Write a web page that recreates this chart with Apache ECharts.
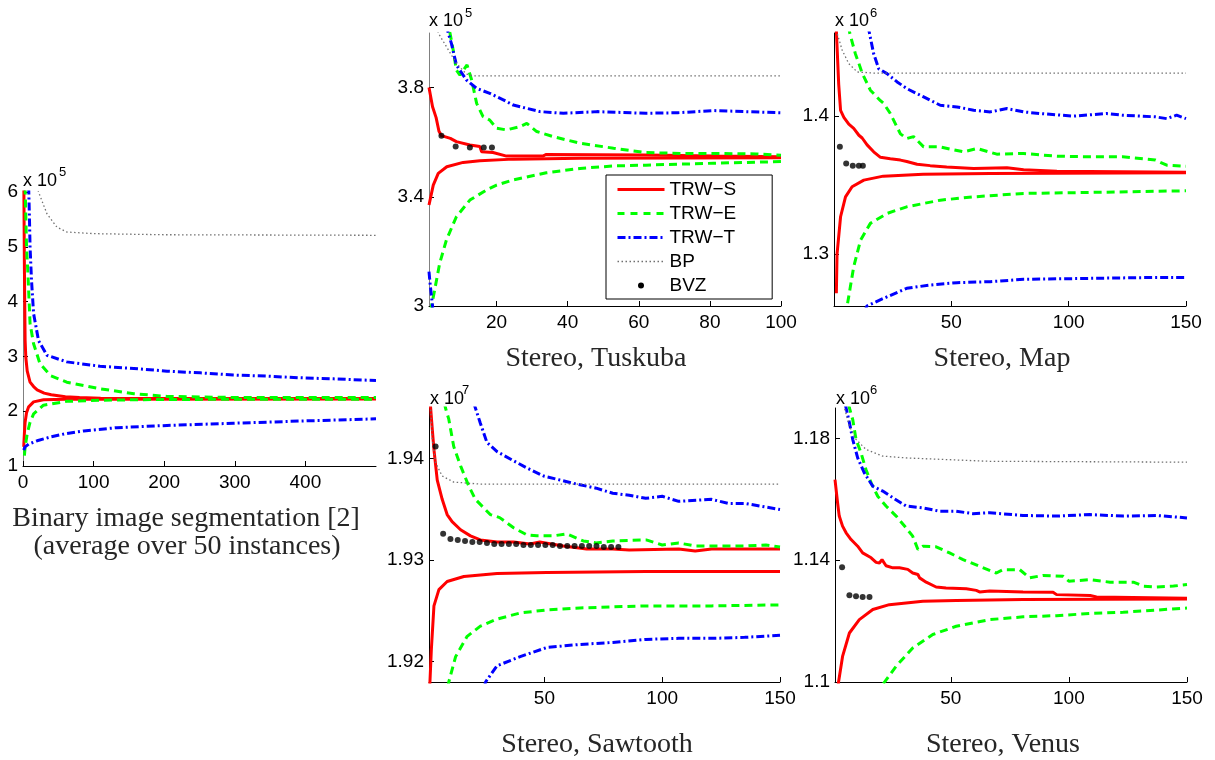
<!DOCTYPE html>
<html><head><meta charset="utf-8">
<script src="https://cdn.jsdelivr.net/npm/echarts@6/dist/echarts.min.js"></script>
<style>html,body{margin:0;padding:0;background:#fff}#c{width:1215px;height:760px}</style>
</head><body><div id="c"></div>
<script>
// ---------- DATA (values in axis units, e.g. 3.8 means 3.8 x 10^5) ----------
// Binary image segmentation (x 10^5)
const BIN_S_UP = [[1,6.5],[2,4.6],[3,3.3],[4,2.98],[6,2.73],[10,2.53],[15,2.45],[20,2.39],[30,2.33],[40,2.30],[60,2.265],[80,2.25],[110,2.237],[150,2.233],[250,2.232],[500,2.232]];
const BIN_S_LO = [[1,1.35],[2,1.6],[3,1.8],[5,1.97],[8,2.08],[15,2.17],[29,2.21],[60,2.218],[100,2.22],[500,2.222]];
const BIN_E_UP = [[3,6.1],[5,5.0],[7,4.5],[8,4.2],[10,3.6],[15,3.23],[24,2.87],[39,2.65],[62,2.53],[109,2.41],[157,2.32],[204,2.27],[298,2.25],[500,2.25]];
const BIN_E_LO = [[2,1.19],[3,1.35],[6,1.59],[10,1.8],[15,1.95],[29,2.11],[62,2.18],[109,2.2],[204,2.215],[500,2.22]];
const BIN_T_UP = [[8,6.1],[9,5.6],[10,5.0],[12,4.4],[15,3.78],[22,3.29],[34,3.02],[62,2.90],[109,2.82],[157,2.78],[204,2.73],[251,2.70],[298,2.66],[345,2.64],[392,2.61],[440,2.59],[500,2.56]];
const BIN_T_LO = [[1,1.29],[3,1.35],[8,1.40],[20,1.46],[39,1.53],[60,1.59],[86,1.64],[133,1.70],[204,1.74],[298,1.78],[392,1.82],[500,1.86]];
const BIN_BP   = [[20,6.1],[22,6.0],[34,5.6],[48,5.36],[62,5.27],[100,5.24],[200,5.22],[500,5.21]];
const BIN_BVZ  = [];

// Stereo, Tsukuba (x 10^5)
const TSU_S_UP = [[1,3.80],[2,3.73],[3,3.69],[3.8,3.64],[4.5,3.624],[7,3.614],[8.7,3.602],[12.5,3.59],[15.3,3.584],[15.8,3.565],[19,3.562],[22.8,3.549],[33,3.549],[34,3.555],[62,3.553],[81,3.549],[100,3.547]];
const TSU_S_LO = [[1,3.37],[2.2,3.443],[3.6,3.486],[6,3.51],[10.6,3.526],[15.3,3.532],[24.7,3.538],[43.5,3.541],[100,3.543]];
const TSU_E_UP = [[6,4.05],[6.9,4.0],[7.8,3.938],[8.7,3.864],[9.7,3.846],[11.7,3.883],[13,3.828],[14.4,3.742],[16.2,3.694],[18.1,3.681],[20,3.651],[22.8,3.645],[26.6,3.657],[28.5,3.669],[31.3,3.639],[36,3.62],[43.5,3.596],[52.9,3.578],[62,3.562],[71.6,3.559],[81,3.559],[93,3.557],[100,3.552]];
const TSU_E_LO = [[1.5,2.98],[1.7,3.0],[2.6,3.059],[4,3.156],[5.9,3.242],[8.7,3.327],[12.5,3.388],[17.2,3.425],[20,3.443],[24.7,3.462],[34,3.488],[43.5,3.504],[52.9,3.513],[62,3.516],[81,3.523],[100,3.529]];
const TSU_T_UP = [[6,4.03],[6.4,4.0],[7.3,3.962],[8.7,3.883],[11.5,3.828],[14.4,3.797],[18.1,3.779],[21.9,3.755],[24.7,3.736],[28.5,3.724],[32.2,3.712],[38.8,3.706],[48.2,3.712],[62,3.706],[71,3.708],[81,3.716],[90,3.712],[100,3.708]];
const TSU_T_LO = [[1,3.126],[1.4,3.07],[2,3.0],[2.3,2.95]];
const TSU_BP   = [[3,4.05],[3.6,4.0],[5.9,3.95],[8.7,3.889],[11.5,3.85],[13.4,3.843],[100,3.843]];
const TSU_BVZ  = [[4.5,3.624],[8.5,3.584],[12.5,3.581],[16.4,3.581],[18.7,3.581]];

// Stereo, Map (x 10^6)
const MAP_S_UP = [[1,1.462],[2,1.423],[2.8,1.404],[4.2,1.399],[6.3,1.394],[8.4,1.391],[10.6,1.386],[12,1.384],[14.1,1.379],[16.9,1.374],[19.8,1.370],[24,1.369],[28.3,1.368],[31,1.367],[35.4,1.365],[41,1.364],[48,1.363],[59.5,1.362],[73.7,1.3624],[80.8,1.361],[95,1.360],[150,1.3593]];
const MAP_S_LO = [[1,1.2716],[1.3,1.30],[2.8,1.327],[4.9,1.3414],[7.7,1.3487],[12.7,1.3535],[21,1.3564],[38,1.3578],[66.6,1.3583],[150,1.3588]];
const MAP_E_UP = [[6.2,1.465],[6.7,1.46],[9.1,1.445],[10.6,1.438],[12,1.431],[15.5,1.4186],[19.8,1.411],[21.2,1.409],[24,1.4017],[28.3,1.387],[31,1.3836],[33.9,1.385],[35.4,1.3824],[38.2,1.3776],[45,1.3776],[55.2,1.374],[60.9,1.3764],[69.4,1.3723],[80.8,1.3728],[95,1.3708],[109,1.3704],[123,1.3704],[137,1.368],[141.8,1.3643],[150,1.3636]];
const MAP_E_LO = [[5.2,1.255],[5.6,1.2624],[8.4,1.2908],[11.3,1.31],[15.5,1.3222],[22.6,1.3294],[31,1.3342],[45.3,1.339],[59.5,1.3414],[80.8,1.3439],[109,1.3446],[150,1.3458]];
const MAP_T_UP = [[14.5,1.465],[15.1,1.46],[16.9,1.445],[19.1,1.434],[22.6,1.4306],[26.9,1.4246],[31,1.4198],[38.2,1.4137],[45.3,1.4077],[52.4,1.4065],[59.5,1.4041],[66.6,1.4029],[73.7,1.4053],[80.8,1.4029],[87.9,1.4017],[102,1.3998],[116,1.4017],[123,1.4005],[137,1.3993],[141.8,1.398],[146,1.4005],[150,1.398]];
const MAP_T_LO = [[13,1.258],[14,1.2624],[21.2,1.268],[31,1.2752],[41,1.2776],[52.4,1.2793],[66.6,1.28],[80.8,1.2817],[109,1.2824],[137.6,1.2831],[150,1.2831]];
const MAP_BP   = [[1,1.465],[1.3,1.46],[3.5,1.4475],[6.3,1.4378],[9.9,1.4318],[16.9,1.431],[150,1.431]];
const MAP_BVZ  = [[2.5,1.3776],[5.2,1.3655],[8,1.3639],[10.6,1.3639],[12.3,1.3639]];

// Stereo, Sawtooth (x 10^7)
const SAW_S_UP = [[1.4,1.946],[1.7,1.945],[2.4,1.9429],[3.1,1.9409],[4.5,1.9379],[6.6,1.936],[8.7,1.9345],[10.8,1.9338],[14.4,1.933],[18.6,1.9324],[22.8,1.932],[29.9,1.9318],[36.9,1.9318],[43.9,1.9316],[48,1.9318],[58,1.9314],[67.9,1.9311],[79,1.9311],[86,1.931],[107,1.9311],[114,1.9309],[121,1.9311],[150,1.9311]];
const SAW_S_LO = [[1,1.915],[1.4,1.918],[2,1.9212],[3.1,1.9255],[5.2,1.9271],[8.7,1.9279],[15.8,1.9284],[29.9,1.9287],[51,1.9288],[93,1.9289],[150,1.9289]];
const SAW_E_UP = [[7.5,1.9455],[8,1.945],[9.4,1.9439],[11.5,1.9412],[14.4,1.9393],[17.9,1.9373],[20.7,1.936],[22.8,1.9355],[27,1.9345],[31,1.9342],[36.9,1.9332],[42.5,1.9325],[46.8,1.9324],[53.8,1.9324],[59.4,1.9326],[66.5,1.9319],[72,1.9317],[79,1.9319],[93.2,1.932],[100,1.9315],[107,1.9317],[114,1.9314],[128,1.9314],[135,1.9314],[144,1.9315],[150,1.9313]];
const SAW_E_LO = [[9,1.9175],[9.4,1.918],[12.3,1.9205],[17.2,1.9225],[22.8,1.9235],[29.9,1.9242],[39.7,1.9248],[51,1.9251],[65,1.9253],[93,1.9255],[121,1.9255],[150,1.9256]];
const SAW_T_UP = [[20,1.9455],[20.7,1.945],[22.8,1.9435],[25.6,1.9416],[29.9,1.9407],[36.9,1.9398],[42.5,1.9391],[49.6,1.9383],[56.6,1.9379],[63.7,1.9375],[72,1.9371],[79,1.9366],[86,1.9364],[93,1.9361],[100,1.9363],[107,1.9358],[121,1.936],[128,1.9356],[135,1.9356],[142.5,1.9353],[150,1.935]];
const SAW_T_LO = [[24.5,1.9175],[25,1.918],[29.9,1.9196],[39.7,1.9205],[51,1.9214],[65,1.9217],[79,1.9219],[93,1.9222],[107,1.9223],[121,1.9223],[135,1.9224],[150,1.9226]];
const SAW_BP   = [[1.4,1.946],[1.7,1.945],[2.4,1.9419],[3.8,1.9396],[6.6,1.9383],[11.5,1.9377],[22.8,1.9375],[150,1.9375]];
const SAW_BVZ  = [[3.8,1.9412],[7,1.9326],[10.1,1.9321],[13.2,1.932],[16.3,1.9319],[19.4,1.9318],[22.5,1.9318],[25.6,1.9317],[28.7,1.9316],[31.8,1.9316],[34.9,1.9316],[38,1.9316],[41.1,1.9315],[44.2,1.9315],[47.3,1.9315],[50.4,1.9315],[53.5,1.9315],[56.6,1.9314],[59.7,1.9314],[62.8,1.9314],[65.9,1.9314],[69,1.9314],[72.1,1.9314],[75.2,1.9313],[78.3,1.9313],[81.4,1.9313]];

// Stereo, Venus (x 10^6)
const VEN_S_UP = [[1,1.1665],[2.1,1.1588],[2.8,1.1545],[4.2,1.1512],[5.7,1.149],[7.8,1.1468],[10.6,1.1446],[12.7,1.1424],[16.3,1.1408],[18.4,1.1393],[19.8,1.1391],[20.9,1.1402],[22.6,1.1382],[25.5,1.1375],[28.3,1.1375],[31.8,1.137],[33.9,1.1358],[36.1,1.1353],[36.8,1.1342],[39.6,1.1328],[43.8,1.1312],[48,1.1309],[56.6,1.1306],[60.8,1.1301],[62.2,1.1296],[66.5,1.1299],[80.6,1.1296],[93.3,1.1295],[94.8,1.1287],[109,1.1284],[111.7,1.1279],[150,1.1275]];
const VEN_S_LO = [[2.2,1.098],[2.5,1.1],[4.2,1.1084],[7.1,1.1161],[11.3,1.1205],[17,1.1238],[24,1.1254],[38.2,1.1265],[52.3,1.1268],[80.6,1.1271],[150,1.1273]];
const VEN_E_UP = [[6.8,1.191],[7.1,1.19],[8.5,1.1862],[9.9,1.1797],[12,1.1753],[14.1,1.1698],[16.3,1.1654],[19.1,1.161],[22.6,1.1578],[26.9,1.1545],[31.1,1.1506],[33.9,1.1479],[36.1,1.1435],[38.2,1.1446],[43.8,1.1444],[49.5,1.1424],[55.2,1.1402],[62.2,1.138],[69.3,1.1358],[72.1,1.1369],[79.2,1.1369],[83.4,1.1342],[89,1.135],[97.6,1.1347],[100,1.1331],[108.9,1.1336],[117.4,1.1328],[127.3,1.1328],[131.5,1.1315],[137.2,1.1312],[144.3,1.1315],[150,1.132]];
const VEN_E_LO = [[21.5,1.0995],[21.9,1.1],[26.9,1.1052],[33.9,1.1112],[42.4,1.1156],[52.3,1.1183],[66.5,1.1205],[80.6,1.1214],[94.8,1.1218],[108.9,1.1225],[123,1.1229],[150,1.1243]];
const VEN_T_UP = [[5.4,1.191],[5.7,1.19],[7.1,1.1852],[8.5,1.1797],[10.6,1.1736],[13.4,1.1687],[17,1.1643],[21.2,1.1627],[25.5,1.1605],[31.1,1.1578],[38.2,1.1572],[45.3,1.1561],[52.3,1.1561],[59.4,1.1553],[66.5,1.1556],[80.6,1.1547],[94.8,1.1545],[108.9,1.155],[123,1.1545],[137.2,1.1547],[150,1.1539]];
const VEN_T_LO = [];
const VEN_BP   = [[4.8,1.191],[5,1.19],[7.1,1.1841],[9.9,1.1797],[14.1,1.1764],[21.2,1.1742],[31.1,1.1736],[66,1.1725],[150,1.1722]];
const VEN_BVZ  = [[4,1.1377],[7.1,1.1285],[9.9,1.1282],[12.7,1.1279],[15.6,1.1279]];

// axis ranges & tick labels
const BIN_X_TICKS = [0,100,200,300,400];   const BIN_Y_TICKS = [1,2,3,4,5,6];
const TSU_X_TICKS = [20,40,60,80,100];     const TSU_Y_TICKS = [3,3.4,3.8];
const MAP_X_TICKS = [50,100,150];          const MAP_Y_TICKS = [1.3,1.4];
const SAW_X_TICKS = [50,100,150];          const SAW_Y_TICKS = [1.92,1.93,1.94];
const VEN_X_TICKS = [50,100,150];          const VEN_Y_TICKS = [1.1,1.14,1.18];
const EXPONENTS = ['5','5','6','7','6'];
const TITLES = ['Binary image segmentation [2]', 'Stereo, Tuskuba', 'Stereo, Map', 'Stereo, Sawtooth', 'Stereo, Venus'];
const SUBTITLE = '(average over 50 instances)';
const NAMES = ['TRW\u2212S','TRW\u2212E','TRW\u2212T','BP','BVZ'];

// ---------- LAYOUT / STYLE ----------
const SANS = 'Liberation Sans, Arial, Helvetica, sans-serif';
const SERIF = 'Liberation Serif, Times New Roman, serif';
const panels = [
  {grid:{left:23, top:192, width:353, height:274}, xr:[0,500], yr:[1,6], xt:BIN_X_TICKS, yt:BIN_Y_TICKS, yAxisColor:'#808080',
   d:[BIN_S_UP,BIN_S_LO,BIN_E_UP,BIN_E_LO,BIN_T_UP,BIN_T_LO,BIN_BP,BIN_BVZ]},
  {grid:{left:429, top:33, width:352, height:273}, xr:[1,100], yr:[3,4], xt:TSU_X_TICKS, yt:TSU_Y_TICKS, yAxisColor:'#808080',
   d:[TSU_S_UP,TSU_S_LO,TSU_E_UP,TSU_E_LO,TSU_T_UP,TSU_T_LO,TSU_BP,TSU_BVZ]},
  {grid:{left:834, top:33, width:352, height:273}, xr:[0,150], yr:[1.2624,1.46], xt:MAP_X_TICKS, yt:MAP_Y_TICKS, yAxisColor:'#000',
   d:[MAP_S_UP,MAP_S_LO,MAP_E_UP,MAP_E_LO,MAP_T_UP,MAP_T_LO,MAP_BP,MAP_BVZ]},
  {grid:{left:429, top:408, width:351, height:274}, xr:[1,150], yr:[1.918,1.945], xt:SAW_X_TICKS, yt:SAW_Y_TICKS, yAxisColor:'#000',
   d:[SAW_S_UP,SAW_S_LO,SAW_E_UP,SAW_E_LO,SAW_T_UP,SAW_T_LO,SAW_BP,SAW_BVZ]},
  {grid:{left:835, top:408, width:352, height:274}, xr:[1,150], yr:[1.1,1.19], xt:VEN_X_TICKS, yt:VEN_Y_TICKS, yAxisColor:'#000',
   d:[VEN_S_UP,VEN_S_LO,VEN_E_UP,VEN_E_LO,VEN_T_UP,VEN_T_LO,VEN_BP,VEN_BVZ]}
];
const LSTYLE = {
  'TRW\u2212S': {color:'#ff0000', width:3, type:'solid'},
  'TRW\u2212E': {color:'#00ff00', width:3, type:[8,5]},
  'TRW\u2212T': {color:'#0000ff', width:3, type:[8,3,2,3]},
  'BP':         {color:'#707070', width:1.3, type:[1.5,2.5]}
};
const seriesNames = [NAMES[0],NAMES[0],NAMES[1],NAMES[1],NAMES[2],NAMES[2],NAMES[3],NAMES[4]];

const grids=[], xAxes=[], yAxes=[], series=[], graphics=[];
panels.forEach((p,i)=>{
  grids.push(Object.assign({containLabel:false, outerBoundsMode:'none'}, p.grid));
  xAxes.push({gridIndex:i, type:'value', min:p.xr[0], max:p.xr[1],
    axisLine:{show:true, onZero:false, lineStyle:{color:'#000', width:1}},
    axisTick:{show:true, inside:true, length:5, customValues:p.xt, lineStyle:{color:'#000'}},
    axisLabel:{show:true, customValues:p.xt, color:'#000', fontFamily:SANS, fontSize:19, margin:7},
    splitLine:{show:false}});
  yAxes.push({gridIndex:i, type:'value', min:p.yr[0], max:p.yr[1],
    axisLine:{show:true, onZero:false, lineStyle:{color:p.yAxisColor, width:1}},
    axisTick:{show:true, inside:true, length:5, customValues:p.yt, lineStyle:{color:'#000'}},
    axisLabel:{show:true, customValues:p.yt, color:'#000', fontFamily:SANS, fontSize:19, margin:5},
    splitLine:{show:false}});
  p.d.forEach((arr,k)=>{
    const name = seriesNames[k];
    if(!arr.length) return;
    if(name==='BVZ'){
      series.push({type:'scatter', name, data:arr, xAxisIndex:i, yAxisIndex:i, symbol:'circle', symbolSize:6,
        itemStyle:{color:'#000'}, silent:true, animation:false, z:5, clip:true});
    } else {
      const st = LSTYLE[name];
      series.push({type:'line', name, data:arr, xAxisIndex:i, yAxisIndex:i, symbol:'none', showSymbol:false,
        smooth:false, clip:true, silent:true, animation:false, lineStyle:st, itemStyle:{color:st.color},
        emphasis:{disabled:true}});
    }
  });
});

// exponent labels (x 10^n)
const expPos = [[23,181,59,172],[429,21.5,465,13],[835,21.5,870,13],[430,399,462,390],[836,399,870,390]];
expPos.forEach((e,i)=>{
  graphics.push({type:'text', x:e[0], y:e[1], silent:true, style:{text:'x 10', font:'18px '+SANS, fill:'#000', textAlign:'left', textVerticalAlign:'middle', align:'left', verticalAlign:'middle'}});
  graphics.push({type:'text', x:e[2], y:e[3], silent:true, style:{text:EXPONENTS[i], font:'13px '+SANS, fill:'#000', textAlign:'left', textVerticalAlign:'middle', align:'left', verticalAlign:'middle'}});
});
// panel titles
const titlePos = [[186,519],[596,359],[1002,359],[597,745],[1003,745]];
titlePos.forEach((t,i)=>{
  graphics.push({type:'text', x:t[0], y:t[1], silent:true, style:{text:TITLES[i], font:'28px '+SERIF, fill:'#262626', textAlign:'center', textVerticalAlign:'middle', align:'center', verticalAlign:'middle'}});
});
graphics.push({type:'text', x:187, y:547, silent:true, style:{text:SUBTITLE, font:'28px '+SERIF, fill:'#262626', textAlign:'center', textVerticalAlign:'middle', align:'center', verticalAlign:'middle'}});

const HIDE_SYMBOL = {opacity:0};
const option = {
  animation:false,
  backgroundColor:'#fff',
  grid:grids, xAxis:xAxes, yAxis:yAxes, series,
  legend:{
    show:true, orient:'vertical', left:606, top:175,
    padding:[5,36,4,10], itemGap:5, itemWidth:47, itemHeight:6,
    backgroundColor:'#fff', borderColor:'#000', borderWidth:1, borderRadius:0,
    selectedMode:false, symbolKeepAspect:true,
    textStyle:{color:'#000', fontFamily:SANS, fontSize:19},
    data:[
      {name:NAMES[0], itemStyle:HIDE_SYMBOL, lineStyle:{width:3, type:'solid', color:'#ff0000'}},
      {name:NAMES[1], itemStyle:HIDE_SYMBOL, lineStyle:{width:3, type:[7,6], color:'#00ff00'}},
      {name:NAMES[2], itemStyle:HIDE_SYMBOL, lineStyle:{width:3, type:[8,3,2,3], color:'#0000ff'}},
      {name:NAMES[3], itemStyle:HIDE_SYMBOL, lineStyle:{width:1.3, type:[1.5,2.5], color:'#707070'}},
      {name:NAMES[4], icon:'circle', itemStyle:{color:'#000', opacity:1}}
    ]
  },
  graphic:graphics
};
const chart = echarts.init(document.getElementById('c'), null, {renderer:'canvas'});
chart.setOption(option);
</script></body></html>
